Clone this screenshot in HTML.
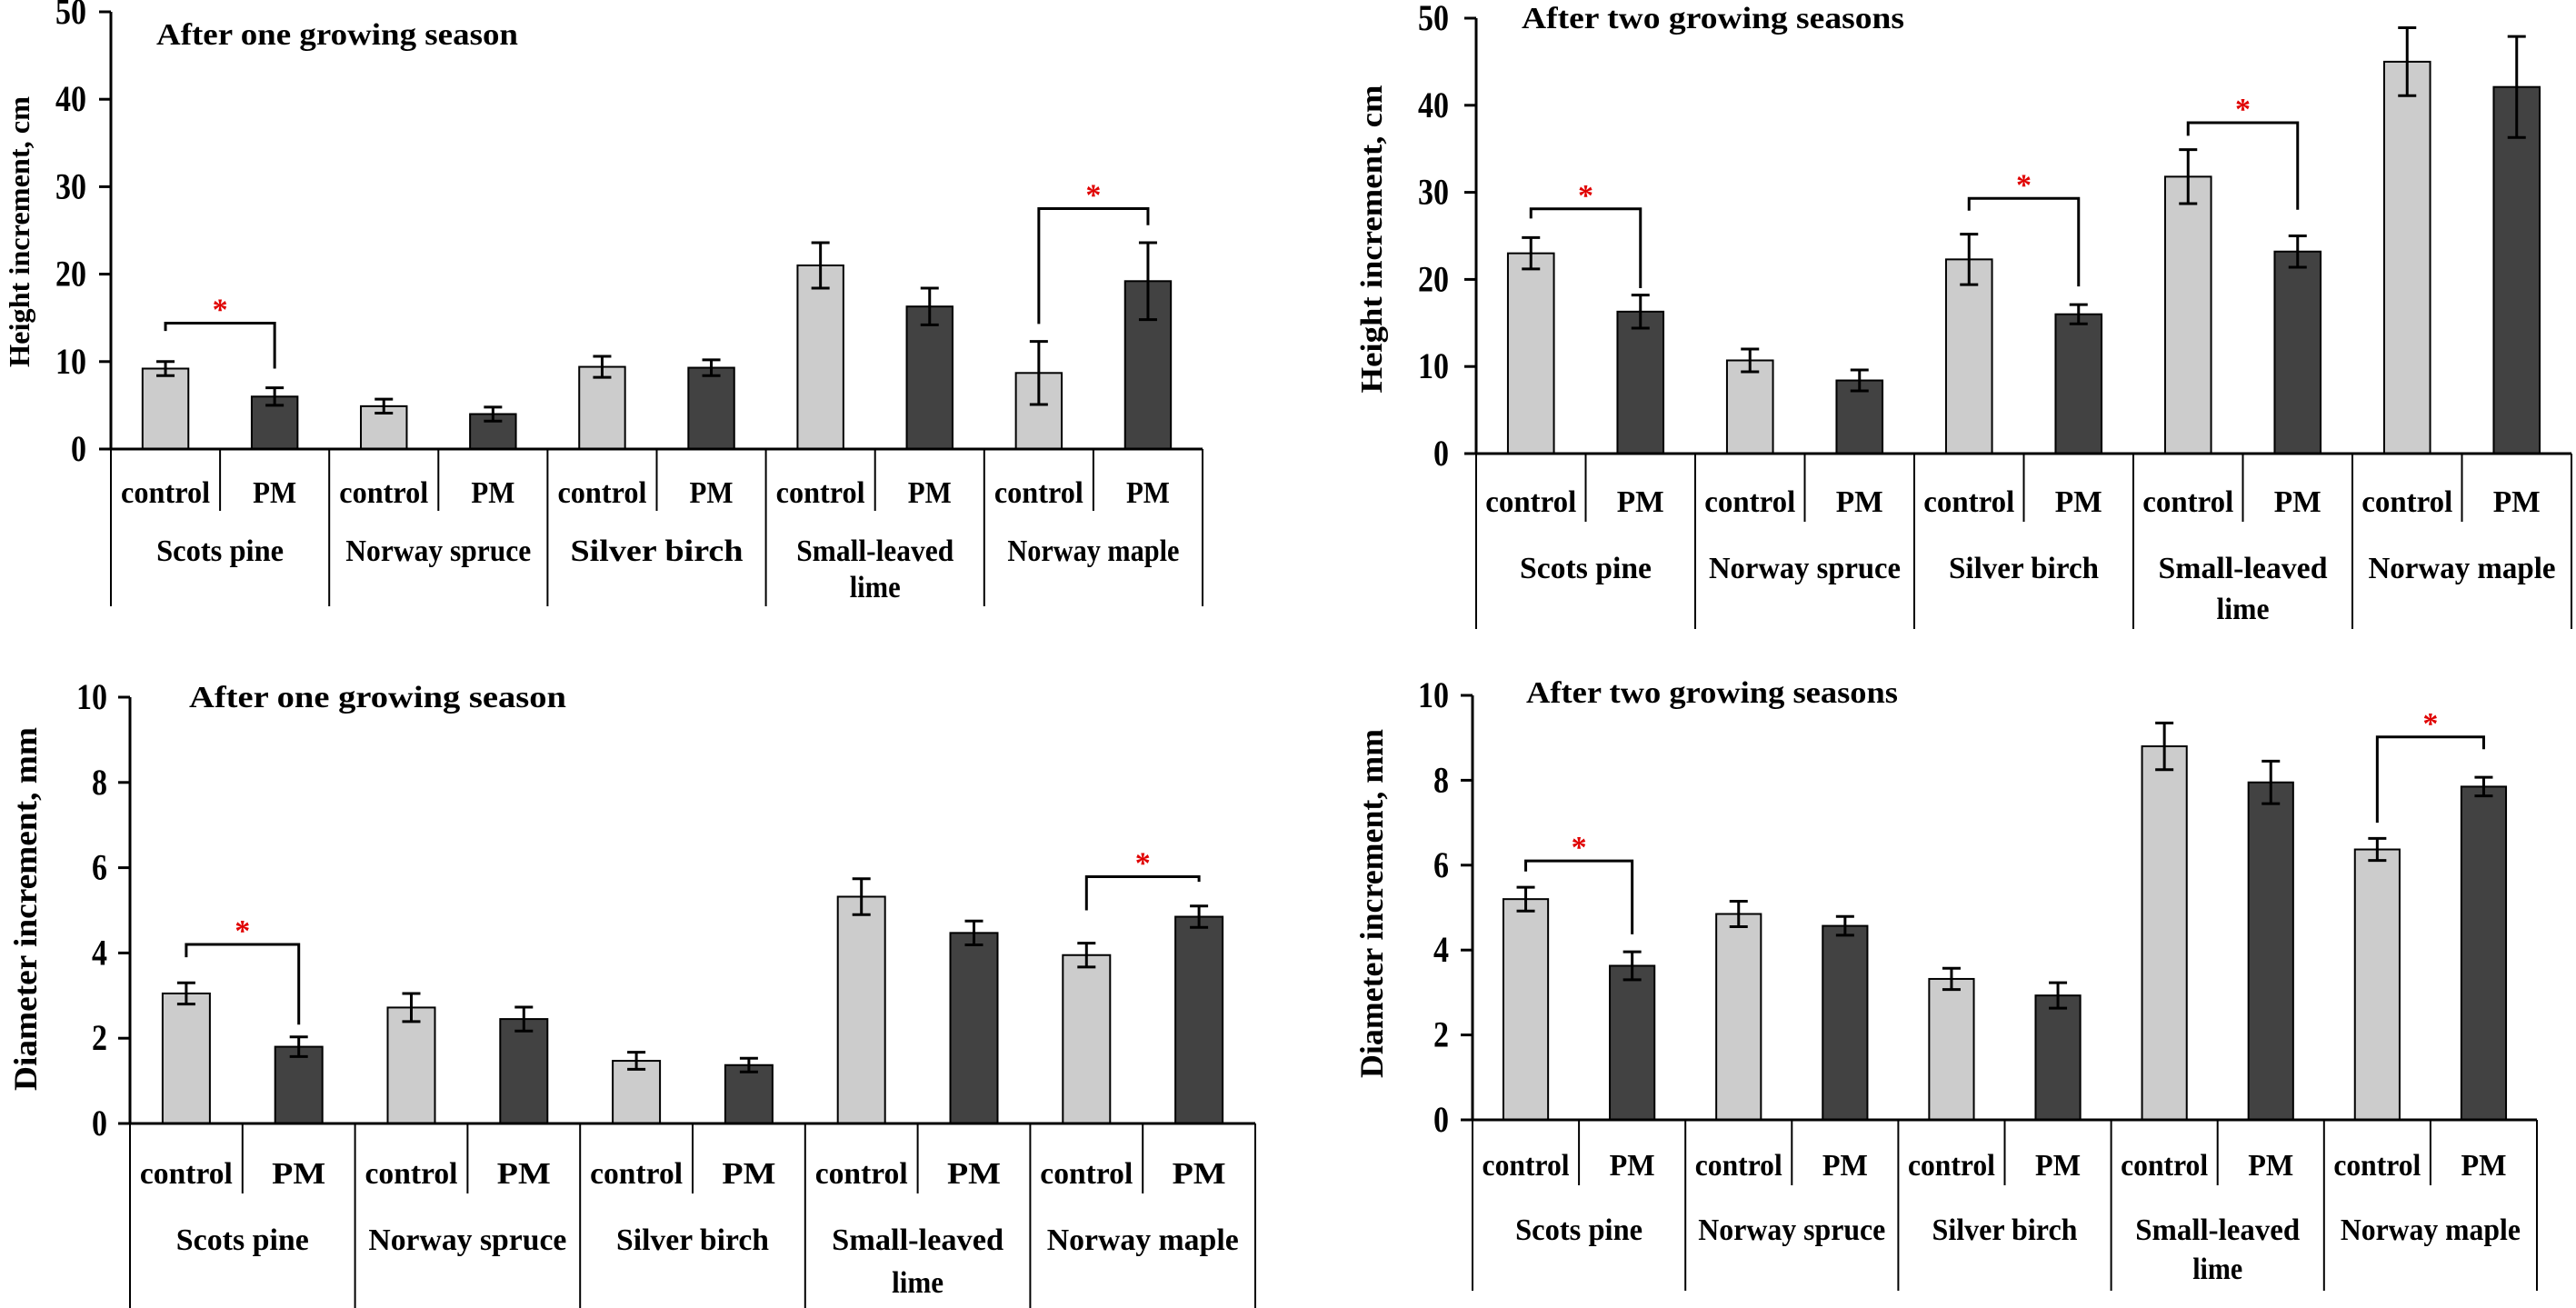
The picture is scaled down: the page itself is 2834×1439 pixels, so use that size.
<!DOCTYPE html>
<html><head><meta charset="utf-8"><style>
html,body{margin:0;padding:0;background:#fff;}
svg{display:block;}
text{font-family:"Liberation Serif",serif;font-weight:bold;fill:#000;}
</style></head><body>
<svg id="fig" width="2834" height="1439" viewBox="0 0 2834 1439" xmlns="http://www.w3.org/2000/svg"></svg>
<script>
// ---------- shared categories ----------
const groups = ["Scots pine","Norway spruce","Silver birch","Small-leaved|lime","Norway maple"];
const treatments = ["control","PM"];

// ---------- panel 1: height, one season ----------
const p1Ticks = [0,10,20,30,40,50];
const p1Control = [9.2, 4.9, 9.4, 21.0, 8.7];
const p1ControlErr = [0.8, 0.8, 1.2, 2.6, 3.6];
const p1PM = [6.0, 4.0, 9.3, 16.3, 19.2];
const p1PMErr = [1.0, 0.8, 0.9, 2.1, 4.4];
const p1SigGroup = [0, 4];
const p1SigTop = [14.4, 27.5];
const p1SigLeft = [13.5, 14.3];
const p1SigRight = [9.2, 25.6];

// ---------- panel 2: height, two seasons ----------
const p2Ticks = [0,10,20,30,40,50];
const p2Control = [23.0, 10.7, 22.3, 31.8, 45.0];
const p2ControlErr = [1.8, 1.3, 2.9, 3.1, 3.9];
const p2PM = [16.3, 8.4, 16.0, 23.2, 42.1];
const p2PMErr = [1.9, 1.2, 1.1, 1.8, 5.8];
const p2SigGroup = [0, 2, 3];
const p2SigTop = [28.1, 29.3, 38.0];
const p2SigLeft = [27.0, 27.9, 36.5];
const p2SigRight = [19.0, 19.2, 28.0];

// ---------- panel 3: diameter, one season ----------
const p3Ticks = [0,2,4,6,8,10];
const p3Control = [3.05, 2.72, 1.47, 5.32, 3.95];
const p3ControlErr = [0.25, 0.33, 0.2, 0.42, 0.28];
const p3PM = [1.8, 2.45, 1.37, 4.47, 4.85];
const p3PMErr = [0.23, 0.28, 0.16, 0.28, 0.25];
const p3SigGroup = [0, 4];
const p3SigTop = [4.2, 5.79];
const p3SigLeft = [3.9, 5.0];
const p3SigRight = [2.32, 5.67];

// ---------- panel 4: diameter, two seasons ----------
const p4Ticks = [0,2,4,6,8,10];
const p4Control = [5.2, 4.85, 3.32, 8.8, 6.37];
const p4ControlErr = [0.28, 0.3, 0.25, 0.55, 0.26];
const p4PM = [3.63, 4.57, 2.93, 7.95, 7.85];
const p4PMErr = [0.33, 0.22, 0.3, 0.5, 0.22];
const p4SigGroup = [0, 4];
const p4SigTop = [6.1, 9.02];
const p4SigLeft = [5.85, 7.0];
const p4SigRight = [4.37, 8.73];

const NS = "http://www.w3.org/2000/svg";
const svg = document.getElementById("fig");
function mk(tag, attrs, parent){
  const e = document.createElementNS(NS, tag);
  for (const k in attrs) e.setAttribute(k, attrs[k]);
  (parent||svg).appendChild(e);
  return e;
}
function txt(parent, s, x, y, size, anchor, len, fill){
  const t = mk("text", {x:x, y:y, "font-size":size, "text-anchor":anchor||"middle"}, parent);
  if (len){ t.setAttribute("textLength", len); t.setAttribute("lengthAdjust","spacingAndGlyphs"); }
  if (fill) t.setAttribute("style","fill:"+fill);
  t.textContent = s;
  return t;
}

function panel(c){
  const g = mk("g", {});
  
  
  const ymax = c.ticks[c.ticks.length-1];
  const yS = v => c.y0 - (c.y0 - c.yTop) * v / ymax;
  const gw = (c.xEnd - c.ax) / groups.length;
  const sw = gw / 2;
  const xC = (gi, ti) => c.ax + gi*gw + ti*sw + sw/2;
  const bw = sw * 0.42;

  const yAxis = mk("line", {x1:c.ax, y1:yS(ymax), x2:c.ax, y2:c.y0, stroke:"#000","stroke-width":3}, g);
  
  
  c.ticks.forEach(t => {
    const tk = mk("line", {x1:c.ax-13, y1:yS(t), x2:c.ax, y2:yS(t), stroke:"#000","stroke-width":3}, g);
    
    
    const lb = txt(g, String(t), c.ax - c.tickGap, yS(t) + 13, 40, "end", String(t).length * 17);
    
    
  });
  const yt = mk("text", {x:0, y:0, "font-size":c.ytSize, "text-anchor":"middle",
    transform:"translate("+c.ytX+","+c.ytY+") rotate(-90)", textLength:c.ytLen, lengthAdjust:"spacingAndGlyphs"}, g);
  yt.textContent = c.ytitle;
  
  
  const ct = txt(g, c.title, c.titleX, c.titleY, 34, "start", c.titleLen);
  
  

  const vals = [c.control, c.pm], errs = [c.controlErr, c.pmErr], fills = ["#cccccc","#424242"];
  groups.forEach((gn, gi) => {
    treatments.forEach((tn, ti) => {
      const v = vals[ti][gi], e = errs[ti][gi], cx = xC(gi, ti);
      const b = mk("rect", {x:cx-bw/2, y:yS(v), width:bw, height:c.y0-yS(v), fill:fills[ti], stroke:"#000","stroke-width":2}, g);
      
      
      const eb = mk("path", {d:"M"+cx+","+yS(v+e)+"V"+yS(v-e)+"M"+(cx-10)+","+yS(v+e)+"h20M"+(cx-10)+","+yS(v-e)+"h20",
        stroke:"#000","stroke-width":3, fill:"none"}, g);
      
      
    });
  });

  const xa = mk("line", {x1:c.ax-13, y1:c.y0, x2:c.xEnd, y2:c.y0, stroke:"#000","stroke-width":3}, g);
  
  
  for (let i = 0; i <= groups.length; i++){
    const x = c.ax + i*gw;
    const l = mk("line", {x1:x, y1:c.y0, x2:x, y2:c.gBot, stroke:"#000","stroke-width":2}, g);
    
    
    if (i < groups.length){
      const sl = mk("line", {x1:x+sw, y1:c.y0, x2:x+sw, y2:c.sBot, stroke:"#000","stroke-width":2}, g);
      
      
    }
  }
  groups.forEach((gn, gi) => {
    treatments.forEach((tn, ti) => {
      const t = txt(g, tn, xC(gi, ti), c.trY, 34, "middle", ti === 0 ? c.ctrlLen : c.pmLen);
      
      
    });
    const parts = gn.split("|");
    parts.forEach((p, pi) => {
      const t = txt(g, p, c.ax + gi*gw + gw/2, c.grY + pi*c.lineH, 34, "middle", c.grLens[gi][pi]);
      
      
    });
  });

  c.sigGroup.forEach((gi, k) => {
    const xl = xC(gi, 0), xr = xC(gi, 1);
    const br = mk("path", {d:"M"+xl+","+yS(c.sigLeft[k])+"V"+yS(c.sigTop[k])+"H"+xr+"V"+yS(c.sigRight[k]),
      stroke:"#000","stroke-width":3, fill:"none"}, g);
    
    
    const st = txt(g, "*", (xl+xr)/2, yS(c.sigTop[k]) - 4, 34, "middle", null, "#e00000");
    
    
  });
}

panel({name:"height-one-season-chart", ticks:p1Ticks, control:p1Control, controlErr:p1ControlErr, pm:p1PM, pmErr:p1PMErr,
  sigGroup:p1SigGroup, sigTop:p1SigTop, sigLeft:p1SigLeft, sigRight:p1SigRight,
  ax:122, xEnd:1323, y0:494, yTop:13, tickGap:27, sBot:562, gBot:667, trY:553, grY:617, lineH:40,
  ctrlLen:98, pmLen:48, grLens:[[140],[204],[190],[173,56],[189]],
  title:"After one growing season", titleX:172, titleY:49, titleLen:398,
  ytitle:"Height increment, cm", ytX:32, ytY:255, ytLen:298, ytSize:32});

panel({name:"height-two-seasons-chart", ticks:p2Ticks, control:p2Control, controlErr:p2ControlErr, pm:p2PM, pmErr:p2PMErr,
  sigGroup:p2SigGroup, sigTop:p2SigTop, sigLeft:p2SigLeft, sigRight:p2SigRight,
  ax:1624, xEnd:2829, y0:499, yTop:20, tickGap:30, sBot:574, gBot:692, trY:563, grY:636, lineH:45,
  ctrlLen:100, pmLen:52, grLens:[[145],[211],[165],[186,58],[206]],
  title:"After two growing seasons", titleX:1674, titleY:31, titleLen:421,
  ytitle:"Height increment, cm", ytX:1520, ytY:263, ytLen:339, ytSize:34});

panel({name:"diameter-one-season-chart", ticks:p3Ticks, control:p3Control, controlErr:p3ControlErr, pm:p3PM, pmErr:p3PMErr,
  sigGroup:p3SigGroup, sigTop:p3SigTop, sigLeft:p3SigLeft, sigRight:p3SigRight,
  ax:143, xEnd:1381, y0:1236, yTop:767, tickGap:25, sBot:1313, gBot:1439, trY:1302, grY:1375, lineH:47,
  ctrlLen:102, pmLen:59, grLens:[[146],[218],[168],[189,57],[211]],
  title:"After one growing season", titleX:208, titleY:778, titleLen:415,
  ytitle:"Diameter increment, mm", ytX:40, ytY:1000, ytLen:400, ytSize:36});

panel({name:"diameter-two-seasons-chart", ticks:p4Ticks, control:p4Control, controlErr:p4ControlErr, pm:p4PM, pmErr:p4PMErr,
  sigGroup:p4SigGroup, sigTop:p4SigTop, sigLeft:p4SigLeft, sigRight:p4SigRight,
  ax:1620, xEnd:2791, y0:1232, yTop:765, tickGap:26, sBot:1304, gBot:1420, trY:1293, grY:1364, lineH:43,
  ctrlLen:96, pmLen:50, grLens:[[140],[206],[160],[181,55],[198]],
  title:"After two growing seasons", titleX:1679, titleY:773, titleLen:409,
  ytitle:"Diameter increment, mm", ytX:1521, ytY:994, ytLen:384, ytSize:36});
</script>
</body></html>
